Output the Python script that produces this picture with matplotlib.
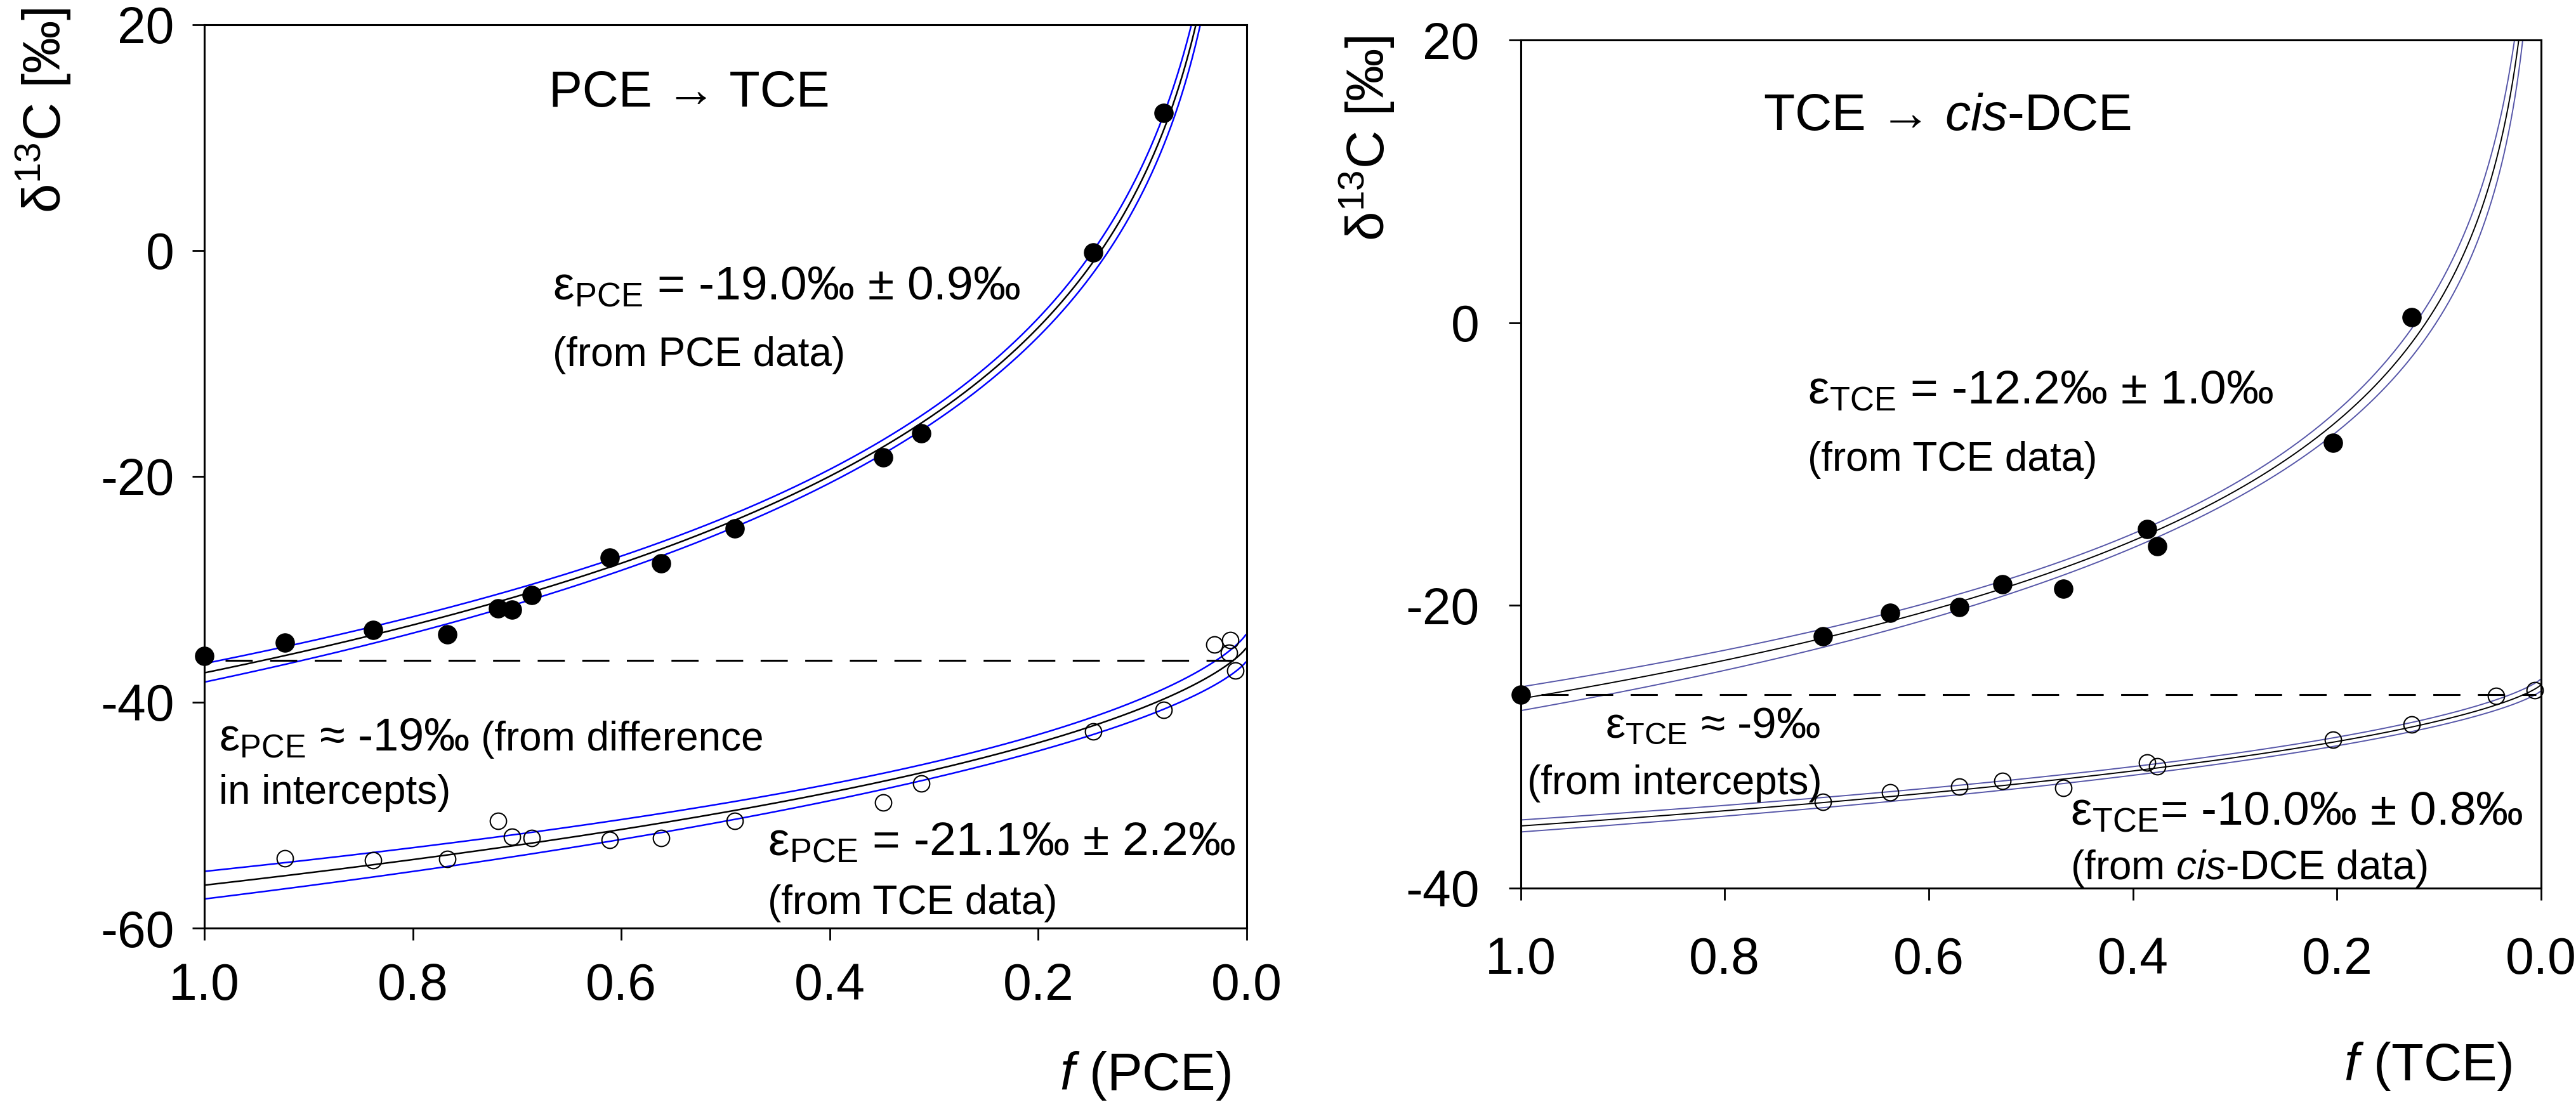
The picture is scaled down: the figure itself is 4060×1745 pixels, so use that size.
import numpy as np
import matplotlib
matplotlib.use('Agg')
import matplotlib.pyplot as plt

plt.rcParams['font.family'] = ['Liberation Sans', 'DejaVu Sans']
plt.rcParams['mathtext.fontset'] = 'custom'
plt.rcParams['mathtext.rm'] = 'Liberation Sans'
plt.rcParams['mathtext.it'] = 'Liberation Sans:italic'
plt.rcParams['axes.unicode_minus'] = False

# ---- left panel: PCE -> TCE
f_pce = [1.0, 0.923, 0.838, 0.767, 0.718, 0.705, 0.686, 0.611, 0.562, 0.491, 0.349, 0.312, 0.147, 0.080]
d13c_pce = [-35.9, -34.7, -33.6, -34.0, -31.7, -31.8, -30.5, -27.2, -27.7, -24.6, -18.3, -16.2, -0.2, 12.2]
f_tce_prod = [0.923, 0.838, 0.767, 0.718, 0.705, 0.686, 0.611, 0.562, 0.491, 0.349, 0.312, 0.147, 0.080,
              0.031, 0.016, 0.017, 0.011]
d13c_tce_prod = [-53.8, -54.0, -53.9, -50.5, -51.9, -52.0, -52.2, -52.0, -50.5, -48.9, -47.2, -42.6, -40.7,
                 -34.9, -34.5, -35.6, -37.2]

# ---- right panel: TCE -> cis-DCE
f_tce = [1.0, 0.704, 0.638, 0.570, 0.528, 0.468, 0.386, 0.376, 0.204, 0.127]
d13c_tce = [-26.3, -22.2, -20.5, -20.1, -18.5, -18.8, -14.6, -15.8, -8.5, 0.4]
f_dce = [0.704, 0.638, 0.570, 0.528, 0.468, 0.386, 0.376, 0.204, 0.127, 0.044, 0.006]
d13c_dce = [-33.9, -33.2, -32.8, -32.4, -32.9, -31.1, -31.4, -29.5, -28.4, -26.4, -26.0]

# Rayleigh fits (intercept, epsilon) and their confidence band (s0, s1, centre)
fit_pce = (-37.4, -19.0)
fit_tce_prod = (-35.1, -21.1)
fit_tce = (-26.6, -12.2)
fit_dce = (-25.6, -10.0)
band_pce = (0.6, 0.7, -0.8)
band_tce_prod = (0.7, 2.0, -0.5)
band_tce = (0.5, 0.75, -0.9)
band_dce = (0.3, 0.6, -0.5)
intercept_left = -36.3
intercept_right = -26.3

xticks = [1.0, 0.8, 0.6, 0.4, 0.2, 0.0]
xtick_labels = ['1.0', '0.8', '0.6', '0.4', '0.2', '0.0']
yticks_left = [20, 0, -20, -40, -60]
yticks_right = [20, 0, -20, -40]

W, H = 4060, 1745


def px(x, y):
    return x / W, 1 - y / H


def substrate(f, fit, band):
    d0, eps = fit
    x = np.log(f)
    d = d0 + eps * x
    w = np.sqrt(band[0] ** 2 + (band[1] * (x - band[2])) ** 2)
    return d, d - w, d + w


def product(f, fit, band):
    d0, eps = fit
    g = f * np.log(f) / (1 - f)
    d = d0 - eps * g
    w = np.sqrt(band[0] ** 2 + (band[1] * (g - band[2])) ** 2)
    return d, d - w, d + w


fig = plt.figure(figsize=(W / 100, H / 100), dpi=100)
axL = fig.add_axes([322 / W, 1 - 1463 / H, (1965 - 322) / W, (1463 - 38.7) / H])
axR = fig.add_axes([2396.6 / W, 1 - 1400 / H, (4005 - 2396.6) / W, (1400 - 63.4) / H])

fgrid = np.concatenate([np.logspace(-3, -1, 400), np.linspace(0.1, 0.9999, 800)])


def draw_panel(ax, f_s, d_s, f_p, d_p, fit_s, band_s, fit_p, band_p, icpt, band_col, lw, yticks, ylim,
               xpad, ypad):
    for fn, fit, band in ((substrate, fit_s, band_s), (product, fit_p, band_p)):
        d, lo, hi = fn(fgrid, fit, band)
        ax.plot(fgrid, lo, color=band_col, lw=lw, zorder=2)
        ax.plot(fgrid, hi, color=band_col, lw=lw, zorder=2)
        ax.plot(fgrid, d, color='black', lw=lw, zorder=3)
    ax.plot([0.98, 0.005], [icpt, icpt], color='black', lw=2.2, linestyle=(0, (14, 9)), zorder=3)
    ax.plot(f_s, d_s, 'o', color='black', ms=21, zorder=5, clip_on=False)
    ax.plot(f_p, d_p, 'o', mfc='none', mec='black', mew=1.5, ms=18.5, zorder=5, clip_on=False)
    ax.set_xlim(1.0, 0.0)
    ax.set_ylim(*ylim)
    ax.set_xticks(xticks)
    ax.set_xticklabels(xtick_labels)
    ax.set_yticks(yticks)
    ax.set_yticklabels([str(v) for v in yticks])
    ax.tick_params(direction='out', length=13.7, width=2, labelsize=58, top=False, right=False)
    ax.tick_params(axis='x', pad=xpad)
    ax.tick_params(axis='y', pad=ypad)
    for s in ax.spines.values():
        s.set_linewidth(2.2)


draw_panel(axL, f_pce, d13c_pce, f_tce_prod, d13c_tce_prod, fit_pce, band_pce, fit_tce_prod, band_tce_prod,
           intercept_left, '#0000ff', 1.8, yticks_left, (-60, 20), 25, 20.5)
draw_panel(axR, f_tce, d13c_tce, f_dce, d13c_dce, fit_tce, band_tce, fit_dce, band_dce,
           intercept_right, '#5656a8', 1.4, yticks_right, (-40, 20), 41, 33)

ylab = r'δ$^{\mathregular{13}}$C [‰]'
fig.text(*px(68.5, 13), ylab, rotation=90, ha='center', va='top', fontsize=60)
fig.text(*px(2155, 57), ylab, rotation=90, ha='center', va='top', fontsize=60)
fig.text(*px(1940, 1718), r'$\mathit{f}$ (PCE)', ha='right', va='baseline', fontsize=60)
fig.text(*px(3959, 1703), r'$\mathit{f}$ (TCE)', ha='right', va='baseline', fontsize=60)

# left panel labels
fig.text(*px(865, 168), 'PCE → TCE', ha='left', va='baseline', fontsize=57)
fig.text(*px(871, 472), r'ε$_{\mathregular{PCE}}$ = -19.0‰ ± 0.9‰', ha='left', va='baseline', fontsize=54)
fig.text(*px(871, 577), '(from PCE data)', ha='left', va='baseline', fontsize=46)
t1 = fig.text(*px(345, 1183), r'ε$_{\mathregular{PCE}}$ ≈ -19‰', ha='left', va='baseline', fontsize=52)
fig.text(*px(345, 1267), 'in intercepts)', ha='left', va='baseline', fontsize=46)
fig.text(*px(1210, 1348), r'ε$_{\mathregular{PCE}}$ = -21.1‰ ± 2.2‰', ha='left', va='baseline', fontsize=54)
fig.text(*px(1210, 1441), '(from TCE data)', ha='left', va='baseline', fontsize=46)

# right panel labels
fig.text(*px(2779, 205), r'TCE → $\mathit{cis}$-DCE', ha='left', va='baseline', fontsize=58)
fig.text(*px(2849, 636), r'ε$_{\mathregular{TCE}}$ = -12.2‰ ± 1.0‰', ha='left', va='baseline', fontsize=54)
fig.text(*px(2849, 742), '(from TCE data)', ha='left', va='baseline', fontsize=46)
fig.text(*px(2530, 1163), r'ε$_{\mathregular{TCE}}$ ≈ -9‰', ha='left', va='baseline', fontsize=50)
fig.text(*px(2407, 1252), '(from intercepts)', ha='left', va='baseline', fontsize=46)
fig.text(*px(3263, 1300), r'ε$_{\mathregular{TCE}}$= -10.0‰ ± 0.8‰', ha='left', va='baseline', fontsize=54)
fig.text(*px(3263, 1386), r'(from $\mathit{cis}$-DCE data)', ha='left', va='baseline', fontsize=46)

# continue the "from difference" text right after the epsilon estimate
fig.canvas.draw()
bb = t1.get_window_extent()
fig.text((bb.x1 + 18) / W, 1 - 1183 / H, '(from difference', ha='left', va='baseline', fontsize=46)

fig.savefig('out.png', dpi=100)
